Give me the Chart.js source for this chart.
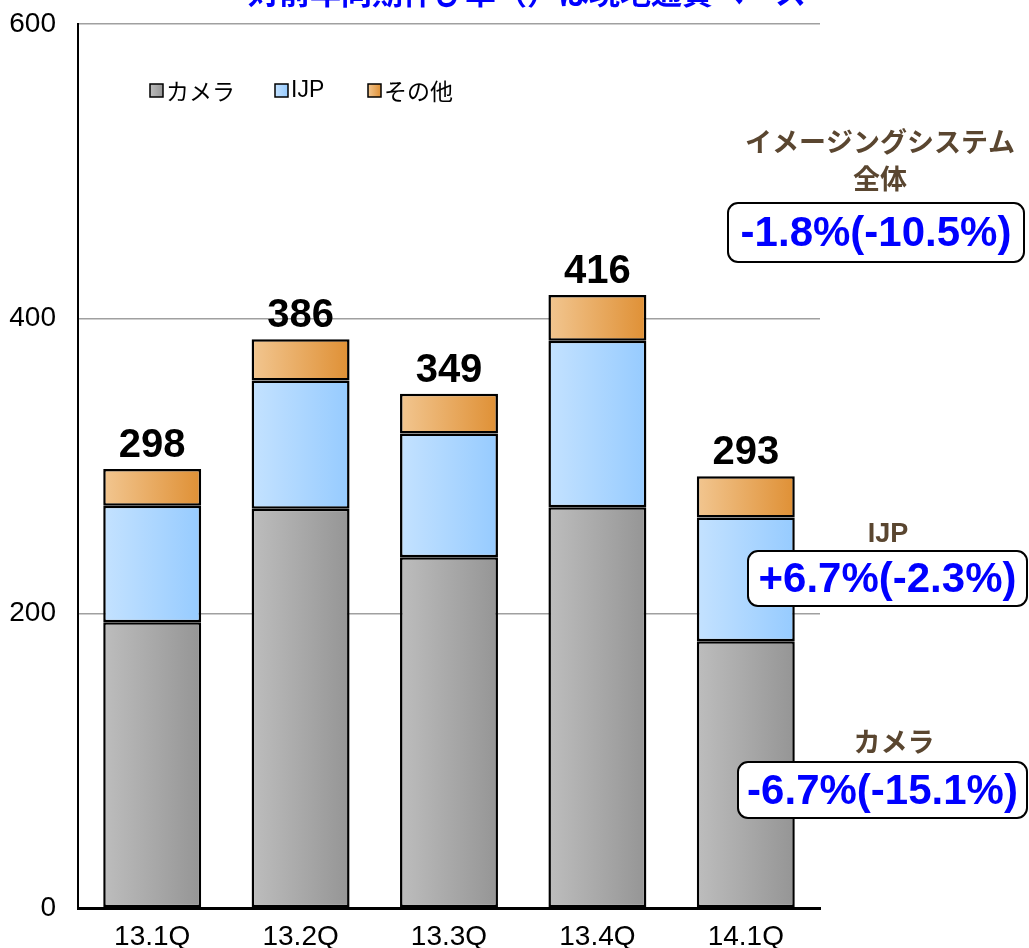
<!DOCTYPE html>
<html>
<head>
<meta charset="utf-8">
<script src="https://cdn.jsdelivr.net/npm/chart.js@4"></script>
<style>
  body { margin: 0; background: #fff; }
</style>
</head>
<body>
<canvas id="myChart" width="1029" height="948"></canvas>
<script>
// quarters
let labels = ["13.1Q", "13.2Q", "13.3Q", "13.4Q", "14.1Q"]
// sales by segment
let camera = [194, 271, 238, 272, 181]
let ijp = [79, 87, 84, 113, 84]
let other = [25, 28, 27, 31, 28]
let totals = [298, 386, 349, 416, 293]
let yTicks = [0, 200, 400, 600]

let seriesNames = ["カメラ", "IJP", "その他"]
let growthTitles = [["イメージングシステム", "全体"], ["IJP"], ["カメラ"]]
let growthValues = ["-1.8%(-10.5%)", "+6.7%(-2.3%)", "-6.7%(-15.1%)"]
let titleText = "対前年同期伸び率（）は現地通貨ベース"

const BAR_PCT = 0.66
const gradStops = [
  ["#bdbdbd", "#959595"],
  ["#c4e2ff", "#96cbff"],
  ["#f2c690", "#df9035"]
]

function barGradient(i) {
  return ctx => {
    let chart = ctx.chart
    let x = chart.scales.x
    if (!chart.chartArea || !x) return gradStops[i][1]
    let cx = x.getPixelForValue(ctx.dataIndex)
    let w = (x.width / labels.length) * BAR_PCT
    let g = chart.ctx.createLinearGradient(cx - w / 2, 0, cx + w / 2, 0)
    g.addColorStop(0, gradStops[i][0])
    g.addColorStop(1, gradStops[i][1])
    return g
  }
}

function roundRect(c, x, y, w, h, r) {
  c.beginPath()
  c.moveTo(x + r, y)
  c.arcTo(x + w, y, x + w, y + h, r)
  c.arcTo(x + w, y + h, x, y + h, r)
  c.arcTo(x, y + h, x, y, r)
  c.arcTo(x, y, x + w, y, r)
  c.closePath()
}

const extras = {
  id: "extras",
  afterDraw(chart) {
    let c = chart.ctx
    let x = chart.scales.x
    let y = chart.scales.y
    c.save()

    // clipped title at the very top
    c.fillStyle = "#0000ff"
    c.font = "bold 31px 'Noto Sans CJK JP'"
    c.textAlign = "center"
    c.textBaseline = "alphabetic"
    c.fillText(titleText, 527, 4)

    // totals above bars
    c.fillStyle = "#000"
    c.font = "bold 40px 'Liberation Sans'"
    c.textBaseline = "bottom"
    totals.forEach((t, i) => {
      c.fillText(String(t), x.getPixelForValue(i), y.getPixelForValue(t) - 3)
    })

    // legend
    c.textAlign = "left"
    c.textBaseline = "middle"
    let lx = [150, 275, 368]
    seriesNames.forEach((n, i) => {
      let g = c.createLinearGradient(lx[i], 0, lx[i] + 13, 0)
      g.addColorStop(0, gradStops[i][0])
      g.addColorStop(1, gradStops[i][1])
      c.fillStyle = g
      c.fillRect(lx[i], 84, 13, 13)
      c.strokeStyle = "#000"
      c.lineWidth = 1.5
      c.strokeRect(lx[i], 84, 13, 13)
      c.fillStyle = "#000"
      c.font = i == 1 ? "23px 'Liberation Sans'" : "23px 'Noto Sans CJK JP'"
      c.fillText(n, lx[i] + 16, 91)
    })

    // growth rate callouts
    let boxes = [
      { cx: 880, ty: [145, 182], bx: 728, by: 203, bw: 296, bh: 59 },
      { cx: 888, ty: [535], bx: 748, by: 551, bw: 279, bh: 55 },
      { cx: 894, ty: [745], bx: 738, by: 762, bw: 289, bh: 56 }
    ]
    boxes.forEach((b, i) => {
      c.fillStyle = "#5a4630"
      c.textAlign = "center"
      c.textBaseline = "middle"
      c.font = "bold 27px 'Liberation Sans', 'Noto Sans CJK JP'"
      growthTitles[i].forEach((t, k) => c.fillText(t, b.cx, b.ty[k]))
      roundRect(c, b.bx, b.by, b.bw, b.bh, 10)
      c.fillStyle = "#fff"
      c.fill()
      c.strokeStyle = "#000"
      c.lineWidth = 2
      c.stroke()
      c.fillStyle = "#0000ff"
      c.font = "bold 42px 'Liberation Sans'"
      c.fillText(growthValues[i], b.bx + b.bw / 2, b.by + b.bh / 2 + 2)
    })
    c.restore()
  }
}

let ctx = document.getElementById("myChart").getContext("2d")

let myChart = new Chart(ctx, {
  type: "bar",
  data: {
    labels,
    datasets: [camera, ijp, other].map((d, i) => ({
      label: seriesNames[i],
      data: d,
      backgroundColor: barGradient(i),
      borderColor: "#000",
      borderWidth: 2.5,
      borderSkipped: false,
      barPercentage: BAR_PCT,
      categoryPercentage: 1
    }))
  },
  options: {
    responsive: false,
    animation: false,
    layout: { padding: { top: 24, right: 209, left: 0, bottom: 0 } },
    plugins: { legend: { display: false }, tooltip: { enabled: false } },
    scales: {
      x: {
        stacked: true,
        grid: { display: false, drawTicks: false },
        border: { color: "#000", width: 3 },
        ticks: { color: "#000", padding: 12, font: { family: "'Liberation Sans'", size: 28 } },
        afterFit: s => { s.height = 40 }
      },
      y: {
        stacked: true,
        min: 0,
        max: 600,
        afterBuildTicks: s => { s.ticks = yTicks.map(v => ({ value: v })) },
        grid: { color: "#a0a0a0", lineWidth: 1.5, drawTicks: false },
        border: { color: "#000", width: 2 },
        ticks: { color: "#000", padding: 22, font: { family: "'Liberation Sans'", size: 28 } },
        afterFit: s => { s.width = 78; s.paddingTop = 0; s.paddingBottom = 0 }
      }
    }
  },
  plugins: [extras]
})
</script>
</body>
</html>
